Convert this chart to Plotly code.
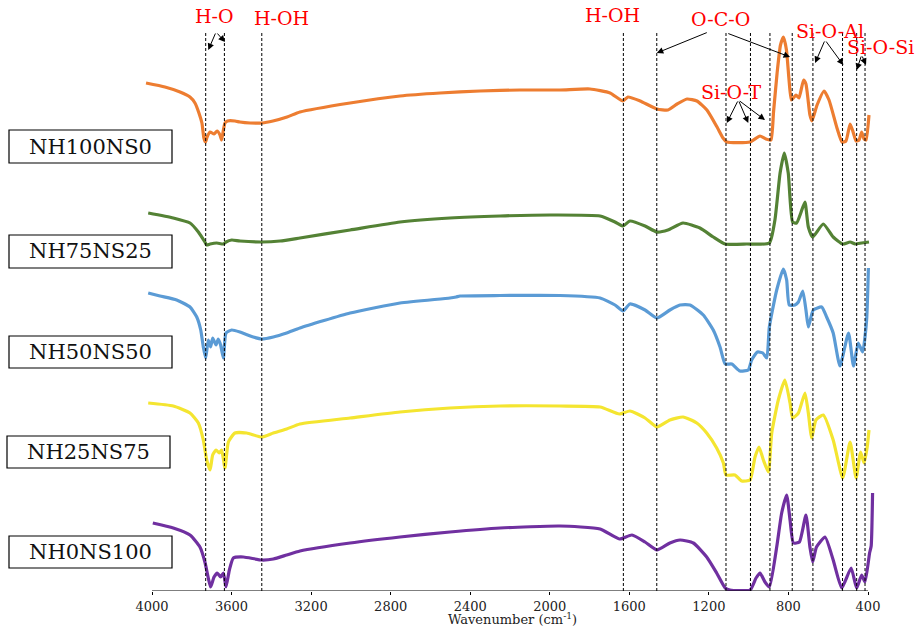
import plotly.graph_objects as go

# FTIR spectra (stacked, arbitrary transmittance units) as (wavenumber cm-1, T) pairs
nh100ns0 = [(4030, 508), (3935, 504), (3859, 499), (3809, 494), (3784, 488), (3764, 478),
            (3749, 468), (3739, 453), (3731, 449), (3723, 454), (3708, 459), (3688, 457),
            (3673, 460), (3658, 456), (3650, 451), (3641, 461), (3633, 468), (3620, 470),
            (3583, 470), (3558, 469), (3507, 468), (3447, 468), (3392, 470), (3321, 474),
            (3256, 479), (3004, 488), (2753, 495), (2552, 498), (2351, 500), (2150, 501),
            (1949, 501), (1798, 502), (1697, 498), (1632, 490), (1607, 494), (1546, 490),
            (1461, 482), (1406, 481), (1360, 487), (1310, 492), (1260, 490), (1210, 481),
            (1159, 464), (1129, 453), (1110, 449), (993, 449), (943, 455), (913, 452),
            (888, 451), (875, 479), (857, 518), (840, 546), (825, 554), (810, 541),
            (797, 511), (785, 491), (762, 496), (747, 493), (724, 511), (712, 507),
            (692, 476), (682, 470), (656, 486), (621, 500), (596, 491), (556, 463),
            (531, 449), (511, 450), (490, 467), (475, 459), (460, 450), (445, 451),
            (432, 459), (420, 452), (410, 451), (395, 476)]

nh75ns25 = [(4019, 378), (3893, 373), (3809, 368), (3767, 359), (3734, 349), (3725, 346),
            (3708, 347), (3675, 348), (3641, 347), (3628, 349), (3599, 351), (3558, 350),
            (3448, 349), (3356, 350), (3256, 353), (3004, 361), (2753, 369), (2502, 373),
            (2250, 375), (1999, 376), (1747, 375), (1672, 369), (1632, 365), (1597, 370),
            (1521, 365), (1461, 359), (1406, 361), (1330, 368), (1245, 363), (1178, 354),
            (1118, 347), (1010, 347), (896, 348), (868, 371), (842, 418), (821, 438),
            (801, 418), (779, 369), (759, 368), (738, 378), (717, 389), (700, 364),
            (678, 354), (625, 367), (575, 354), (527, 347), (490, 349), (465, 347),
            (432, 348), (395, 349)]

nh50ns50 = [(4019, 298), (3960, 295), (3876, 291), (3809, 284), (3775, 274), (3755, 261),
            (3742, 244), (3730, 233), (3717, 251), (3705, 244), (3695, 253), (3678, 246),
            (3667, 252), (3655, 246), (3641, 233), (3628, 258), (3599, 261), (3558, 259),
            (3491, 254), (3448, 252), (3390, 254), (3323, 258), (3256, 263), (3004, 278),
            (2753, 288), (2502, 293), (2471, 294), (2451, 295), (2250, 295.5),
            (1949, 295.5), (1747, 293), (1672, 286), (1632, 280), (1597, 287), (1521, 281),
            (1461, 273), (1396, 281), (1345, 286), (1295, 286), (1228, 276), (1178, 261),
            (1144, 244), (1118, 227), (1085, 227), (1044, 220), (1002, 221), (985, 231),
            (956, 239), (929, 238), (909, 233), (896, 264), (859, 301), (826, 322),
            (809, 311), (796, 286), (767, 286), (750, 289), (728, 300), (712, 281),
            (700, 264), (675, 281), (633, 284), (608, 274), (575, 258), (541, 225),
            (498, 258), (473, 225), (449, 248), (427, 239), (407, 271), (398, 323)]

nh25ns75 = [(4019, 188), (3893, 185), (3809, 178), (3767, 168), (3742, 151), (3725, 131),
            (3708, 121), (3695, 136), (3678, 141), (3662, 138), (3650, 141), (3633, 123),
            (3616, 149), (3583, 158), (3524, 158), (3448, 154), (3390, 158), (3323, 162),
            (3256, 167), (3004, 173), (2753, 179), (2502, 183), (2250, 185), (1949, 185),
            (1747, 184), (1650, 177), (1597, 180), (1521, 173), (1461, 164), (1396, 171),
            (1330, 174), (1261, 168), (1211, 158), (1161, 143), (1127, 128), (1114, 116),
            (1069, 116), (1035, 110), (993, 111), (968, 134), (948, 144), (926, 131),
            (901, 119), (884, 158), (851, 191), (818, 211), (792, 188), (779, 173),
            (750, 178), (717, 198), (700, 178), (683, 153), (662, 171), (625, 176),
            (575, 151), (527, 113), (490, 149), (460, 113), (437, 139), (420, 128),
            (404, 144), (395, 161)]

nh0ns100 = [(3996, 68), (3893, 63), (3809, 56), (3759, 44), (3734, 29), (3717, 13),
            (3705, 4), (3688, 14), (3672, 18), (3655, 14), (3641, 18), (3628, 4),
            (3611, 21), (3591, 33), (3541, 34), (3448, 31), (3390, 32), (3323, 36),
            (3256, 40), (3004, 48), (2753, 54), (2502, 59), (2250, 63), (1949, 65),
            (1747, 62), (1650, 52), (1587, 56), (1521, 49), (1461, 41), (1396, 48),
            (1345, 51), (1278, 48), (1211, 34), (1161, 18), (1118, 3), (1094, 1),
            (993, 1), (963, 13), (943, 18), (918, 9), (896, 4), (859, 44), (834, 78),
            (809, 96), (792, 71), (775, 48), (745, 49), (712, 76), (692, 44), (678, 29),
            (659, 44), (616, 54), (575, 31), (532, 3), (485, 23), (457, 3), (432, 16),
            (415, 9), (392, 38), (384, 45), (377, 98)]

samples = ["NH100NS0", "NH75NS25", "NH50NS50", "NH25NS75", "NH0NS100"]
spectra = [nh100ns0, nh75ns25, nh50ns50, nh25ns75, nh0ns100]
colors = ["#ED7D31", "#548235", "#5B9BD5", "#F4E530", "#7030A0"]

# Band positions marked with dashed guide lines (cm-1)
band_wn = [3730, 3636, 3448, 1630, 1462, 1114, 991, 893, 781, 677, 528, 457, 415]

tick_vals = [4000, 3600, 3200, 2800, 2400, 2000, 1600, 1200, 800, 400]

# Band assignments: label, label centre (px), arrow tail (wn, T), arrow heads [(wn, T)]
assignments = [
    ("H-O", (214, 16), (3678, 559), [(3717, 541), (3633, 549)]),
    ("H-OH", (281, 18), None, []),
    ("H-OH", (612, 15), None, []),
    ("O-C-O", (720, 19), None, []),
    ("Si-O-Al", (830, 31), (616, 551), [(666, 528), (524, 526)]),
    ("Si-O-Si", (880, 47), (432, 536), [(457, 521), (410, 526)]),
    ("Si-O-T", (731, 92), (1052, 491), [(1110, 468), (1002, 468), (918, 471)]),
]
oco_arrows = [((1203, 559), (1462, 538)), ((1110, 558), (792, 534))]

# Sample name boxes (px): x0, y0, x1, y1
label_boxes = [(9, 130, 172, 163), (9, 235, 172, 268), (9, 336, 172, 368),
               (7, 436, 170, 468), (9, 536, 172, 568)]

# ---------------------------------------------------------------- layout geometry
W, H = 918, 626
PLOT_H = 591
K = (868 - 152) / 3600.0          # px per cm-1
X_LEFT = 4000 + 152 / K
X_RIGHT = 400 - (W - 868) / K
SERIF = "DejaVu Serif"


def px(x):
    return x / W


def py(y):
    return (PLOT_H - y) / PLOT_H


fig = go.Figure()

for name, data, col in zip(samples, spectra, colors):
    fig.add_trace(go.Scatter(
        x=[p[0] for p in data], y=[p[1] for p in data], mode="lines", name=name,
        line=dict(color=col, width=3.2, shape="spline", smoothing=0.5),
        showlegend=False, hoverinfo="skip"))

shapes = []
for wn in band_wn:
    shapes.append(dict(type="line", xref="x", yref="y", x0=wn, x1=wn, y0=0, y1=559,
                       line=dict(color="black", width=1, dash="3px,2px"), layer="above"))
# x axis line spanning 4000-400 cm-1
shapes.append(dict(type="line", xref="x", yref="y", x0=4000, x1=400, y0=0, y1=0,
                   line=dict(color="black", width=1.2)))
for (x0, y0, x1, y1) in label_boxes:
    shapes.append(dict(type="rect", xref="paper", yref="paper",
                       x0=px(x0), x1=px(x1), y0=py(y1), y1=py(y0),
                       line=dict(color="black", width=1.2), fillcolor="white", layer="above"))

annotations = []
for (name, (x0, y0, x1, y1)) in zip(samples, label_boxes):
    annotations.append(dict(text=name, xref="paper", yref="paper",
                            x=px((x0 + x1) / 2), y=py((y0 + y1) / 2),
                            xanchor="center", yanchor="middle", showarrow=False,
                            font=dict(family=SERIF, size=21, color="#111")))

for text, (cx, cy), tail, heads in assignments:
    annotations.append(dict(text=text, xref="paper", yref="paper", x=px(cx), y=py(cy),
                            xanchor="center", yanchor="middle", showarrow=False,
                            font=dict(family=SERIF, size=19, color="#FF0000")))
    for hx, hy in heads:
        annotations.append(dict(text="", x=hx, y=hy, xref="x", yref="y",
                                ax=tail[0], ay=tail[1], axref="x", ayref="y",
                                showarrow=True, arrowhead=2, arrowsize=1.3,
                                arrowwidth=1, arrowcolor="black"))
for tail, head in oco_arrows:
    annotations.append(dict(text="", x=head[0], y=head[1], xref="x", yref="y",
                            ax=tail[0], ay=tail[1], axref="x", ayref="y",
                            showarrow=True, arrowhead=2, arrowsize=1.3,
                            arrowwidth=1, arrowcolor="black"))

annotations.append(dict(text="Wavenumber (cm<sup>-1</sup>)", xref="paper", yref="paper",
                        x=px(512), y=py(619), xanchor="center", yanchor="middle",
                        showarrow=False, font=dict(family=SERIF, size=13, color="#222")))

fig.update_layout(
    width=W, height=H,
    margin=dict(l=0, r=0, t=0, b=H - PLOT_H),
    paper_bgcolor="white", plot_bgcolor="white",
    shapes=shapes, annotations=annotations,
    xaxis=dict(range=[X_LEFT, X_RIGHT], tickvals=tick_vals,
               ticktext=[str(v) for v in tick_vals], ticks="outside", ticklen=3,
               tickcolor="black", showgrid=False, zeroline=False, showline=False,
               tickfont=dict(family=SERIF, size=13, color="#222")),
    yaxis=dict(range=[0, PLOT_H], visible=False, showgrid=False, zeroline=False),
)

fig.write_html("out.html")
